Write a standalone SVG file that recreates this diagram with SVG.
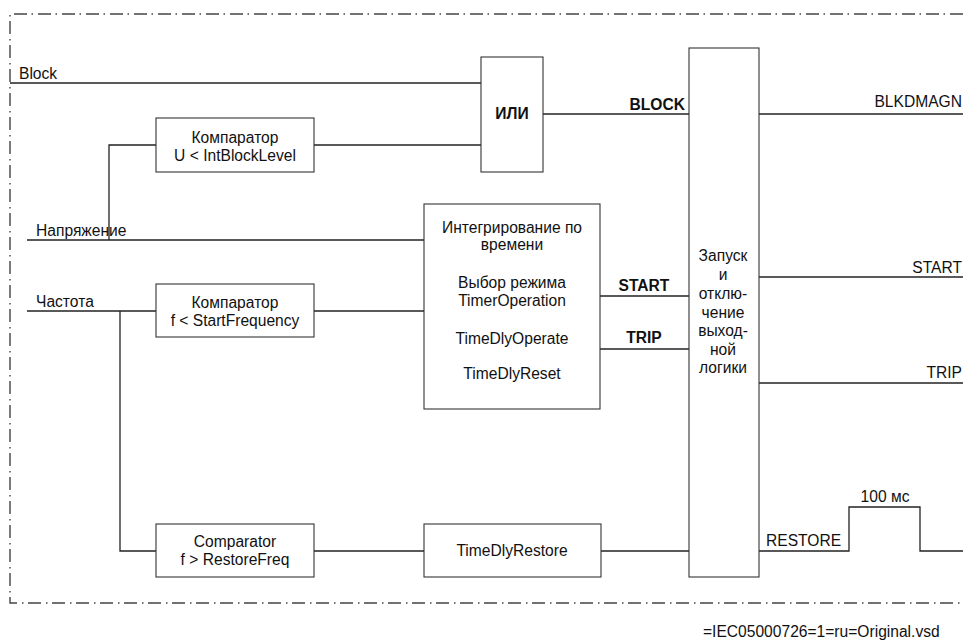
<svg xmlns="http://www.w3.org/2000/svg" width="963" height="640" viewBox="0 0 963 640">
  <style>
    .frame { fill: none; stroke: #444; stroke-width: 1.4; stroke-dasharray: 13 5 1.5 4.5; }
    .box { fill: #fff; stroke: #333; stroke-width: 1.1; }
    .wire { fill: none; stroke: #222; stroke-width: 1.3; }
    text { font-family: "Liberation Sans", Arial, sans-serif; font-size: 15.6px; fill: #111; }
    .c { text-anchor: middle; }
    .r { text-anchor: end; }
    .b { font-weight: bold; }
  </style>

  <rect width="963" height="640" fill="#fff"/>

  <!-- dash-dot boundary (open on the right) -->
  <polyline class="frame" points="963,14 10,14 10,603 963,603"/>

  <!-- signal lines -->
  <g id="connectors">
    <!-- Block -> OR -->
    <line class="wire" x1="10" y1="83" x2="481" y2="83"/>
    <!-- voltage tap -> comparator U -->
    <polyline class="wire" points="109,240 109,145 156,145"/>
    <line class="wire" x1="314" y1="145" x2="481" y2="145"/>
    <!-- OR -> BLOCK -> logic -->
    <line class="wire" x1="543" y1="114" x2="689" y2="114"/>
    <!-- voltage -> integrator -->
    <line class="wire" x1="27" y1="240" x2="424" y2="240"/>
    <!-- frequency -> comparator f -->
    <line class="wire" x1="27" y1="311" x2="156" y2="311"/>
    <line class="wire" x1="314" y1="311" x2="424" y2="311"/>
    <!-- frequency tap -> restore comparator -->
    <polyline class="wire" points="120,311 120,551 156,551"/>
    <line class="wire" x1="314" y1="551" x2="424" y2="551"/>
    <line class="wire" x1="601" y1="551" x2="689" y2="551"/>
    <!-- START / TRIP into logic -->
    <line class="wire" x1="600" y1="296" x2="689" y2="296"/>
    <line class="wire" x1="600" y1="349" x2="689" y2="349"/>
    <!-- outputs -->
    <line class="wire" x1="759" y1="114" x2="963" y2="114"/>
    <line class="wire" x1="759" y1="277" x2="963" y2="277"/>
    <line class="wire" x1="759" y1="383" x2="963" y2="383"/>
    <!-- RESTORE pulse -->
    <polyline class="wire" points="759,551 849,551 849,507 920,507 920,551 963,551"/>
  </g>

  <!-- signal labels -->
  <g id="labels">
    <text x="19" y="79">Block</text>
    <text x="36" y="236">Напряжение</text>
    <text x="36" y="307">Частота</text>
    <text class="r b" x="685" y="110">BLOCK</text>
    <text class="c b" x="644" y="291">START</text>
    <text class="c b" x="644" y="343">TRIP</text>
    <text class="r" x="962" y="107">BLKDMAGN</text>
    <text class="r" x="962" y="273">START</text>
    <text class="r" x="962" y="378">TRIP</text>
    <text x="766" y="546">RESTORE</text>
    <text class="c" x="885" y="502">100 мс</text>
  </g>

  <g id="or-gate">
    <rect class="box" x="481" y="57" width="62" height="115"/>
    <text class="c b" x="512" y="119">ИЛИ</text>
  </g>

  <g id="comparator-u">
    <rect class="box" x="156" y="118" width="158" height="54"/>
    <text class="c" x="235" y="143">Компаратор</text>
    <text class="c" x="235" y="161">U &lt; IntBlockLevel</text>
  </g>

  <g id="comparator-f">
    <rect class="box" x="156" y="284" width="158" height="53"/>
    <text class="c" x="235" y="308">Компаратор</text>
    <text class="c" x="235" y="326">f &lt; StartFrequency</text>
  </g>

  <g id="comparator-restore">
    <rect class="box" x="156" y="524" width="158" height="53"/>
    <text class="c" x="235" y="547">Comparator</text>
    <text class="c" x="235" y="565">f &gt; RestoreFreq</text>
  </g>

  <g id="integrator">
    <rect class="box" x="424" y="204" width="176" height="205"/>
    <text class="c" x="512" y="233">Интегрирование по</text>
    <text class="c" x="512" y="250">времени</text>
    <text class="c" x="512" y="288">Выбор режима</text>
    <text class="c" x="512" y="306">TimerOperation</text>
    <text class="c" x="512" y="344">TimeDlyOperate</text>
    <text class="c" x="512" y="379">TimeDlyReset</text>
  </g>

  <g id="restore-timer">
    <rect class="box" x="424" y="524" width="177" height="53"/>
    <text class="c" x="512" y="556">TimeDlyRestore</text>
  </g>

  <g id="output-logic">
    <rect class="box" x="689" y="48" width="70" height="529"/>
    <text class="c" x="723" y="261">Запуск</text>
    <text class="c" x="723" y="280">и</text>
    <text class="c" x="723" y="299">отклю-</text>
    <text class="c" x="723" y="318">чение</text>
    <text class="c" x="723" y="336">выход-</text>
    <text class="c" x="723" y="355">ной</text>
    <text class="c" x="723" y="373">логики</text>
  </g>

  <text x="703" y="637">=IEC05000726=1=ru=Original.vsd</text>
</svg>
